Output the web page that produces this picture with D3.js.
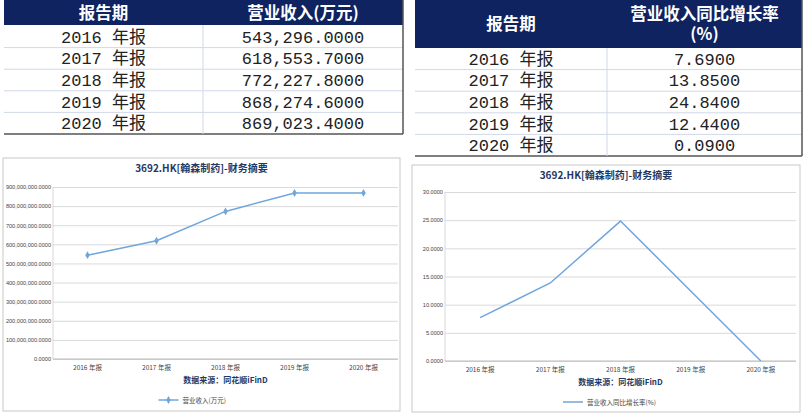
<!DOCTYPE html>
<html><head><meta charset="utf-8">
<script src="https://cdn.jsdelivr.net/npm/d3@7"></script>
<style>body{margin:0;background:#fff}svg{display:block}</style></head>
<body><svg id="c" width="806" height="415"></svg>
<script>
const periods = ["2016 年报","2017 年报","2018 年报","2019 年报","2020 年报"];
const revenue = [543296.0, 618553.7, 772227.8, 868274.6, 869023.4];
const growth = [7.69, 13.85, 24.84, 12.44, 0.09];
const growthPlot = [7.69, 13.85, 24.84, 12.44, 0.0];
const revTicks = [0,100000000,200000000,300000000,400000000,500000000,600000000,700000000,800000000,900000000];
const growthTicks = [0,5,10,15,20,25,30];
const title = "3692.HK[翰森制药]-财务摘要";
const source = "数据来源：同花顺iFinD";

const svg = d3.select("#c");
const navy = "#0e2360", lineC = "#6fa6dc", grid = "#d9d9d9";
const cjk = "'Noto Sans CJK SC',sans-serif";
const mono = "'Liberation Mono','Noto Sans CJK SC',monospace";

function table(x0,x1,xs,headerH,rowsTop,rowH,headers,col2){
  const g = svg.append("g");
  g.append("rect").attr("x",x0).attr("y",0).attr("width",x1-x0).attr("height",headerH).attr("fill",navy);
  headers.forEach((h,i)=>{
    const cx = i==0 ? (x0+xs)/2 : (xs+x1)/2;
    const lines = h.split("\n");
    lines.forEach((l,j)=>g.append("text").attr("x",cx).attr("y",headerH/2+(j-(lines.length-1)/2)*20+6)
      .attr("text-anchor","middle").attr("fill","#fff").attr("font-family",cjk).attr("font-weight","bold").attr("font-size",16.5).text(l));
  });
  periods.forEach((p,i)=>{
    const y = rowsTop+i*rowH;
    g.append("line").attr("x1",x0).attr("x2",x1).attr("y1",y+rowH).attr("y2",y+rowH).attr("stroke",i==4?"#555":"#d0d8e8").attr("stroke-width",i==4?1.5:1);
    g.append("text").attr("x",(x0+xs)/2).attr("y",y+rowH/2+6).attr("text-anchor","middle").attr("font-family",mono).attr("font-size",17).attr("fill","#222").text(p);
    g.append("text").attr("x",(xs+x1)/2).attr("y",y+rowH/2+6).attr("text-anchor","middle").attr("font-family",mono).attr("font-size",17).attr("fill","#222").text(col2[i]);
  });
  g.append("line").attr("x1",xs).attr("x2",xs).attr("y1",headerH).attr("y2",rowsTop+5*rowH).attr("stroke","#d0d8e8");
  g.append("line").attr("x1",x1).attr("x2",x1).attr("y1",0).attr("y2",rowsTop+5*rowH).attr("stroke","#555").attr("stroke-width",1.5);
}
const f4 = d3.format(",.4f");
table(4,403,203,25,26,21.6,["报告期","营业收入(万元)"],revenue.map(v=>f4(v)));
table(415,802,607,48,48,21.6,["报告期","营业收入同比增长率\n(%)"],growth.map(v=>d3.format(".4f")(v)));

function chart(fx0,fy0,fx1,fy1,px0,py0,px1,py1,ticks,vals,markers,legend,ty,xy,sy,ly){
  const g = svg.append("g");
  g.append("rect").attr("x",fx0).attr("y",fy0).attr("width",fx1-fx0).attr("height",fy1-fy0).attr("fill","#fff").attr("stroke","#c8c8c8");
  const x = d3.scalePoint().domain(periods).range([px0,px1]).padding(0.5);
  const y = d3.scaleLinear().domain([0,ticks[ticks.length-1]]).range([py1,py0]);
  g.append("g").attr("transform",`translate(${px0},0)`).call(d3.axisLeft(y).tickValues(ticks).tickSize(-(px1-px0)).tickPadding(2).tickFormat(d3.format(",.4f")))
    .call(a=>{a.select(".domain").remove();a.selectAll("line").attr("stroke",grid);a.selectAll("text").attr("font-size",5.6).attr("fill","#444").attr("font-family","Liberation Sans");});
  g.append("line").attr("x1",px0).attr("x2",px0).attr("y1",py0).attr("y2",py1).attr("stroke",grid);
  g.append("line").attr("x1",px0).attr("x2",px1).attr("y1",py1).attr("y2",py1).attr("stroke","#bbb");
  g.selectAll(".xl").data(periods).enter().append("text").attr("x",d=>x(d)).attr("y",xy).attr("text-anchor","middle").attr("font-size",6.5).attr("font-family",cjk).attr("fill","#444").text(d=>d);
  const line = d3.line().x((d,i)=>x(periods[i])).y(d=>y(d));
  g.append("path").datum(vals).attr("d",line).attr("fill","none").attr("stroke",lineC).attr("stroke-width",1.5);
  if(markers) g.selectAll(".m").data(vals).enter().append("path").attr("d",d3.symbol(d3.symbolDiamond,18)).attr("transform",(d,i)=>`translate(${x(periods[i])},${y(d)})`).attr("fill",lineC);
  g.append("text").attr("x",(fx0+fx1)/2).attr("y",ty).attr("text-anchor","middle").attr("font-family",cjk).attr("font-weight","bold").attr("font-size",10).attr("fill","#1f3864").text(title);
  g.append("text").attr("x",(px0+px1)/2).attr("y",sy).attr("text-anchor","middle").attr("font-family",cjk).attr("font-weight","bold").attr("font-size",8).attr("fill","#1f3864").text(source);
  const lx = (fx0+fx1)/2-35;
  g.append("line").attr("x1",lx-8).attr("x2",lx+12).attr("y1",ly).attr("y2",ly).attr("stroke",lineC).attr("stroke-width",1.5);
  if(markers) g.append("path").attr("d",d3.symbol(d3.symbolDiamond,18)).attr("transform",`translate(${lx+2},${ly})`).attr("fill",lineC);
  g.append("text").attr("x",lx+16).attr("y",ly+2.5).attr("font-family",cjk).attr("font-size",6.5).attr("fill","#444").text(legend);
}
chart(3,158,400,411,53,187,398,359,revTicks,revenue.map(v=>v*1000),true,"营业收入(万元)",172,370,383,400);
chart(412,165,800,412,445,192,796,361,growthTicks,growthPlot,false,"营业收入同比增长率(%)",179,372,385,402);
</script></body></html>
